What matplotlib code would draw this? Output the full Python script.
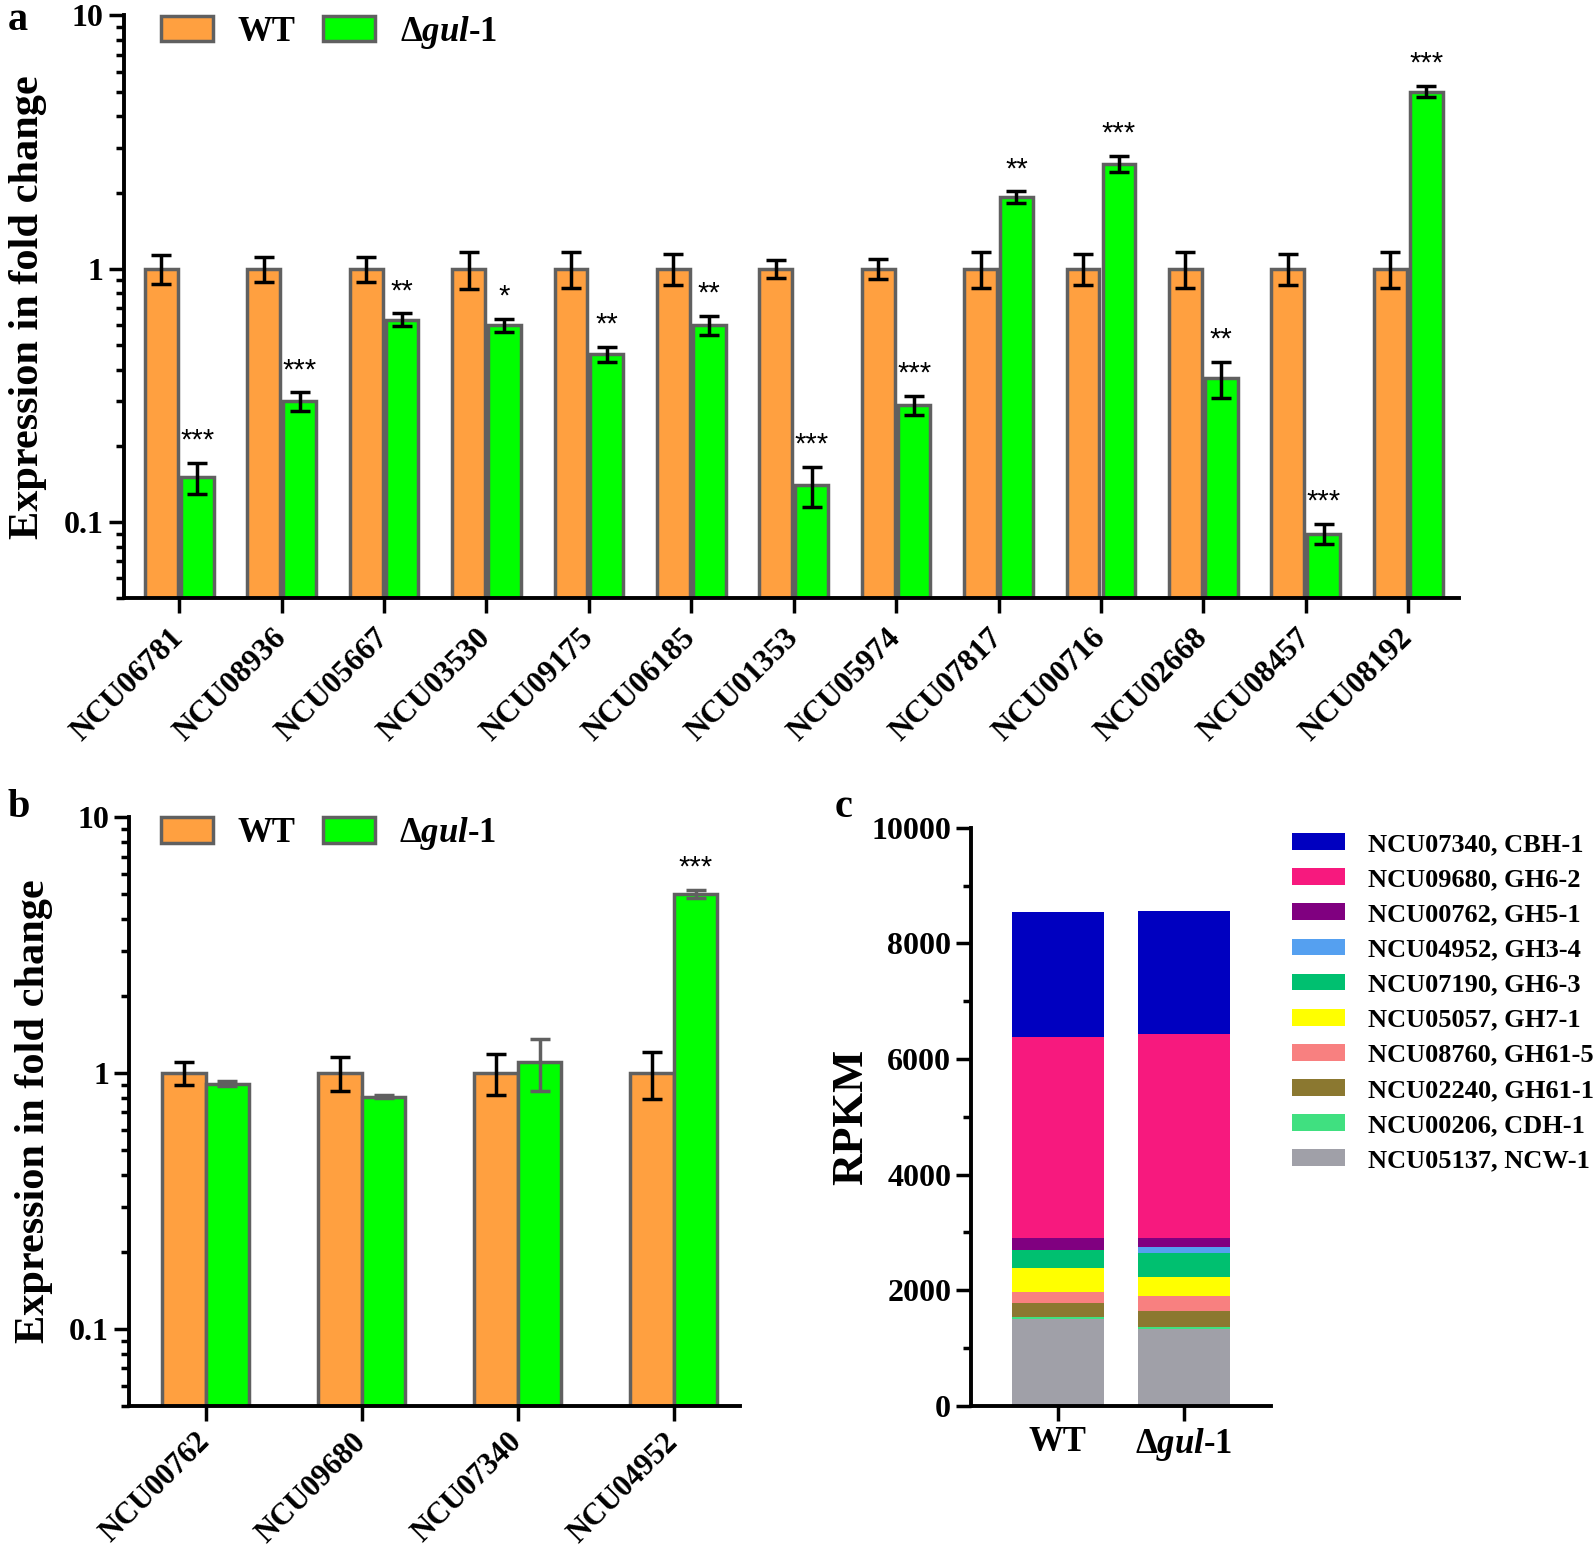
import matplotlib
matplotlib.use('agg')
import matplotlib.pyplot as plt
import numpy as np
from matplotlib.patches import Patch
from matplotlib.transforms import ScaledTranslation
from matplotlib.ticker import MultipleLocator, LogLocator, FixedLocator, NullFormatter

plt.rcParams['font.family'] = ['Liberation Serif', 'DejaVu Serif']
plt.rcParams['font.weight'] = 'bold'
plt.rcParams['axes.labelweight'] = 'bold'
plt.rcParams['mathtext.fontset'] = 'custom'
plt.rcParams['mathtext.rm'] = 'Liberation Serif:bold'
plt.rcParams['mathtext.it'] = 'Liberation Serif:italic:bold'
plt.rcParams['mathtext.bf'] = 'Liberation Serif:bold'

# ---- panel a data ----
genes_a = ['NCU06781', 'NCU08936', 'NCU05667', 'NCU03530', 'NCU09175', 'NCU06185', 'NCU01353',
           'NCU05974', 'NCU07817', 'NCU00716', 'NCU02668', 'NCU08457', 'NCU08192']
wt_a = [1, 1, 1, 1, 1, 1, 1, 1, 1, 1, 1, 1, 1]
wt_err_a = [0.13, 0.11, 0.11, 0.17, 0.16, 0.14, 0.08, 0.09, 0.16, 0.14, 0.16, 0.14, 0.16]
mut_a = [0.15, 0.30, 0.63, 0.60, 0.46, 0.60, 0.14, 0.29, 1.92, 2.60, 0.37, 0.09, 5.0]
mut_err_a = [0.021, 0.025, 0.036, 0.035, 0.03, 0.05, 0.025, 0.025, 0.10, 0.18, 0.06, 0.008, 0.25]
sig_a = ['***', '***', '**', '*', '**', '**', '***', '***', '**', '***', '**', '***', '***']

# ---- panel b data ----
genes_b = ['NCU00762', 'NCU09680', 'NCU07340', 'NCU04952']
wt_b = [1, 1, 1, 1]
wt_err_b = [0.10, 0.15, 0.18, 0.21]
mut_b = [0.905, 0.807, 1.10, 5.0]
mut_err_b = [0.02, 0.01, 0.25, 0.2]
sig_b = ['', '', '', '***']

# ---- panel c data (RPKM, stacked bottom -> top) ----
strains = ['WT', '$\\Delta\\mathit{gul\u20101}$']
comp_labels = ['NCU05137, NCW-1', 'NCU00206, CDH-1', 'NCU02240, GH61-1', 'NCU08760, GH61-5',
               'NCU05057, GH7-1', 'NCU07190, GH6-3', 'NCU04952, GH3-4', 'NCU00762, GH5-1',
               'NCU09680, GH6-2', 'NCU07340, CBH-1']
rpkm_wt = [1500, 40, 247, 178, 415, 311, 10, 195, 3480, 2160]
rpkm_mut = [1330, 35, 271, 259, 339, 409, 98, 161, 3532, 2125]
comp_colors = ['#A0A0A8', '#40E080', '#8B7830', '#F88080', '#FFFF00', '#00C070', '#55A0F0',
               '#800080', '#F7197E', '#0000C0']

orange = '#FFA040'
green = '#00FF00'
edge = '#606060'
mut_label = strains[1]

fig = plt.figure(figsize=(15.95, 15.5), dpi=100)


def style_axes(ax):
    for s in ['top', 'right']:
        ax.spines[s].set_visible(False)
    for s in ['left', 'bottom']:
        ax.spines[s].set_linewidth(2.8)
    ax.tick_params(which='major', length=11, width=2.5, direction='out')
    ax.tick_params(axis='y', which='major', labelsize=23)
    ax.tick_params(which='minor', length=6, width=2.5, direction='out')


def bar_panel(ax, genes, wt, wt_err, mut, mut_err, sig, width, off, mut_err_color, xlim, leg_x,
              xpad, xsize):
    x = np.arange(len(genes))
    ax.bar(x - off, wt, width, color=orange, edgecolor=edge, linewidth=2.5, zorder=2)
    ax.bar(x + off, mut, width, color=green, edgecolor=edge, linewidth=2.5, zorder=2)
    ax.errorbar(x - off, wt, yerr=wt_err, fmt='none', ecolor='black', elinewidth=2.5,
                capsize=7, capthick=2.5, zorder=3)
    ax.errorbar(x + off, mut, yerr=mut_err, fmt='none', ecolor=mut_err_color, elinewidth=2.5,
                capsize=7, capthick=2.5, zorder=3)
    for xi, m, e, s in zip(x, mut, mut_err, sig):
        if s:
            ax.annotate(s, (xi + off, m + e), xytext=(0, 6), textcoords='offset points',
                        ha='center', va='bottom', fontsize=21, fontweight='normal',
                        family='Liberation Sans')
    ax.set_yscale('log')
    ax.set_ylim(0.05, 10)
    ax.set_xlim(*xlim)
    ax.yaxis.set_major_locator(FixedLocator([0.1, 1, 10]))
    ax.set_yticklabels(['0.1', '1', '10'])
    ax.yaxis.set_minor_locator(LogLocator(base=10, subs=np.arange(2, 10)))
    ax.yaxis.set_minor_formatter(NullFormatter())
    ax.set_xticks(x)
    ax.set_xticklabels(genes, rotation=45, ha='right', va='center', rotation_mode='anchor',
                       fontsize=xsize)
    shift = ScaledTranslation(0.045, 0, fig.dpi_scale_trans)
    for lab in ax.get_xticklabels():
        lab.set_transform(lab.get_transform() + shift)
    ax.set_ylabel('Expression in fold change', fontsize=30.5, labelpad=12)
    style_axes(ax)
    ax.tick_params(axis='x', which='major', pad=xpad)
    handles = [Patch(facecolor=orange, edgecolor=edge, linewidth=2.5),
               Patch(facecolor=green, edgecolor=edge, linewidth=2.5)]
    ax.legend(handles, ['WT', mut_label], loc='upper left', bbox_to_anchor=(leg_x, 1.003),
              ncol=2, frameon=False, fontsize=25, handlelength=1.5, handleheight=0.75,
              handletextpad=0.7, columnspacing=0.8, borderpad=0, borderaxespad=0)


# panel a
ax_a = fig.add_axes([0.0777, 0.614, 0.8373, 0.376])
bar_panel(ax_a, genes_a, wt_a, wt_err_a, mut_a, mut_err_a, sig_a, 0.32, 0.175, 'black',
          (-0.54, 12.5), 0.028, 14.5, 22.5)

# panel b
ax_b = fig.add_axes([0.081, 0.093, 0.383, 0.38])
bar_panel(ax_b, genes_b, wt_b, wt_err_b, mut_b, mut_err_b, sig_b, 0.28, 0.14, edge,
          (-0.49, 3.425), 0.052, 12, 22)

# panel c
ax_c = fig.add_axes([0.609, 0.093, 0.188, 0.373])
xc = np.arange(len(strains))
bottom = np.zeros(2)
for lab, col, a, b in zip(comp_labels, comp_colors, rpkm_wt, rpkm_mut):
    vals = np.array([a, b])
    ax_c.bar(xc, vals, 0.73, bottom=bottom, color=col, linewidth=0, label=lab, zorder=2)
    bottom += vals
ax_c.set_xlim(-0.685, 1.69)
ax_c.set_ylim(0, 10000)
ax_c.yaxis.set_major_locator(MultipleLocator(2000))
ax_c.yaxis.set_minor_locator(MultipleLocator(1000))
ax_c.set_xticks(xc)
ax_c.set_xticklabels(strains, fontsize=25)
ax_c.set_ylabel('RPKM', fontsize=32, labelpad=0)
style_axes(ax_c)
h, l = ax_c.get_legend_handles_labels()
ax_c.legend(h[::-1], l[::-1], loc='upper left', bbox_to_anchor=(0.795, 0.478),
            bbox_transform=fig.transFigure, frameon=False, fontsize=19,
            handlelength=2.0, handleheight=0.6, handletextpad=0.9, labelspacing=0.46)

# panel letters
fig.text(0.005, 0.999, 'a', fontsize=29, fontweight='bold', va='top')
fig.text(0.005, 0.491, 'b', fontsize=29, fontweight='bold', va='top')
fig.text(0.523, 0.491, 'c', fontsize=29, fontweight='bold', va='top')

fig.savefig('out.png', dpi=100)
plt.close('all')
